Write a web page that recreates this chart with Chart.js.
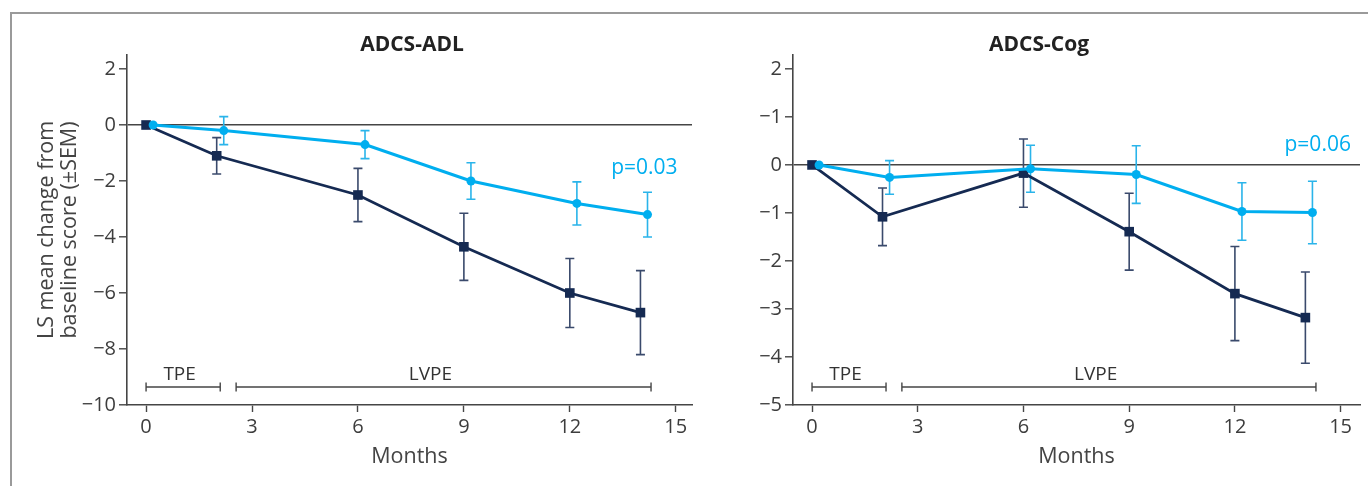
<!DOCTYPE html>
<html>
<head>
<meta charset="utf-8">
<script src="https://cdn.jsdelivr.net/npm/chart.js@4.4.0/dist/chart.umd.min.js"></script>
<style>
  html, body { margin: 0; padding: 0; background: #fff; }
  #wrap { position: relative; width: 1368px; height: 486px; overflow: hidden; }
  #frame { position: absolute; left: 10px; top: 12px; width: 1400px; height: 500px;
           border-top: 2px solid #9a9a9a; border-left: 2px solid #9a9a9a; }
  .box { position: absolute; top: 0; }
  #boxAdl { left: 0; }
  #boxCog { left: 700px; }
</style>
</head>
<body>
<div id="wrap">
  <div id="frame"></div>
  <div class="box" id="boxAdl"><canvas id="adlChart" width="700" height="486"></canvas></div>
  <div class="box" id="boxCog"><canvas id="cogChart" width="668" height="486"></canvas></div>
</div>
<script>
// months (light series is nudged right so the bars do not overlap)
var monthsDark = [0, 2, 6, 9, 12, 14];
var monthsLight = [0.2, 2.2, 6.2, 9.2, 12.2, 14.2];
var xTicks = [0, 3, 6, 9, 12, 15];

// ADCS-ADL
var adlDark = [0, -1.1, -2.5, -4.35, -6.0, -6.7];
var adlDarkSem = [0, 0.65, 0.95, 1.2, 1.23, 1.5];
var adlLight = [0, -0.2, -0.7, -2.0, -2.8, -3.2];
var adlLightSem = [0, 0.5, 0.5, 0.65, 0.77, 0.8];
var adlYTicks = [2, 0, -2, -4, -6, -8, -10];
var adlYLabels = ['2', '0', '−2', '−4', '−6', '−8', '−10'];

// ADCS-Cog (tick labels as printed in the original)
var cogDark = [0, -1.08, -0.17, -1.39, -2.68, -3.18];
var cogDarkSem = [0, 0.6, 0.71, 0.8, 0.98, 0.95];
var cogLight = [0, -0.26, -0.08, -0.2, -0.97, -0.99];
var cogLightSem = [0, 0.35, 0.49, 0.6, 0.6, 0.65];
var cogYTicks = [2, 1, 0, -1, -2, -3, -4, -5];
var cogYLabels = ['2', '−1', '0', '−1', '−2', '−3', '−4', '−5'];

// study phases
var phaseNames = ['TPE', 'LVPE'];
var phaseStart = [0, 2.55];
var phaseEnd = [2.1, 14.3];
var phaseLabelAt = [0.95, 8.05];

var DARK = '#152a52';
var LIGHT = '#00aeef';
var AXIS = '#454545';

Chart.defaults.font.family = "'Open Sans', sans-serif";
Chart.defaults.color = '#3d3d3d';

function pts(xs, ys) {
    return xs.map(function (x, i) { return { x: x, y: ys[i] }; });
}

// error bars, drawn from the dataset's own sem array
var errorBars = {
    id: 'errorBars',
    beforeDatasetsDraw: function (chart) {
        var ctx = chart.ctx;
        var xs = chart.scales.x, ys = chart.scales.y;
        for (var d = chart.data.datasets.length - 1; d >= 0; d--) {
            var ds = chart.data.datasets[d];
            ctx.save();
            ctx.strokeStyle = ds.errColor;
            ctx.lineWidth = 1.6;
            ds.data.forEach(function (p, i) {
                var s = ds.sem[i];
                if (!s) return;
                var px = xs.getPixelForValue(p.x);
                var top = ys.getPixelForValue(p.y + s);
                var bot = ys.getPixelForValue(p.y - s);
                ctx.beginPath();
                ctx.moveTo(px, top); ctx.lineTo(px, bot);
                ctx.moveTo(px - 4.5, top); ctx.lineTo(px + 4.5, top);
                ctx.moveTo(px - 4.5, bot); ctx.lineTo(px + 4.5, bot);
                ctx.stroke();
            });
            ctx.restore();
        }
    }
};

function decor(cfg) {
    return {
        id: 'decor',
        afterDraw: function (chart) {
            var ctx = chart.ctx;
            var xs = chart.scales.x, ys = chart.scales.y;
            var area = chart.chartArea;
            ctx.save();
            // panel title
            ctx.fillStyle = '#222';
            ctx.font = "bold 21px 'Open Sans', sans-serif";
            ctx.textAlign = 'center';
            ctx.textBaseline = 'middle';
            ctx.fillText(cfg.title, cfg.titleX, 45);

            // p value
            ctx.fillStyle = LIGHT;
            ctx.font = "21px 'Open Sans', sans-serif";
            ctx.fillText(cfg.pText, xs.getPixelForValue(cfg.pX), ys.getPixelForValue(cfg.pY));

            // phase brackets
            var by = area.bottom - 18;
            ctx.strokeStyle = AXIS;
            ctx.lineWidth = 1.4;
            ctx.fillStyle = '#333';
            ctx.font = "19px 'Open Sans', sans-serif";
            phaseNames.forEach(function (name, i) {
                var x0 = xs.getPixelForValue(phaseStart[i]);
                var x1 = xs.getPixelForValue(phaseEnd[i]);
                ctx.beginPath();
                ctx.moveTo(x0, by); ctx.lineTo(x1, by);
                ctx.moveTo(x0, by - 4.5); ctx.lineTo(x0, by + 4.5);
                ctx.moveTo(x1, by - 4.5); ctx.lineTo(x1, by + 4.5);
                ctx.stroke();
                ctx.fillText(name, xs.getPixelForValue(phaseLabelAt[i]), by - 12);
            });
            ctx.restore();
        }
    };
}

function makeChart(id, o) {
    return new Chart(document.getElementById(id), {
        type: 'line',
        data: {
            datasets: [{
                data: pts(monthsLight, o.light),
                sem: o.lightSem,
                errColor: '#2ab4ea',
                borderColor: LIGHT,
                backgroundColor: LIGHT,
                borderWidth: 3,
                pointStyle: 'circle',
                pointRadius: 4.5,
                pointBorderWidth: 0
            }, {
                data: pts(monthsDark, o.dark),
                sem: o.darkSem,
                errColor: '#3a4a6c',
                borderColor: DARK,
                backgroundColor: DARK,
                borderWidth: 2.8,
                pointStyle: 'rect',
                pointRadius: 6.8,
                pointBorderWidth: 0
            }]
        },
        options: {
            responsive: false,
            animation: false,
            layout: { padding: { top: 55, left: 0, right: o.padRight, bottom: 0 } },
            plugins: { legend: { display: false }, tooltip: { enabled: false } },
            scales: {
                x: {
                    type: 'linear',
                    min: -0.54,
                    max: o.xMax,
                    afterBuildTicks: function (s) { s.ticks = xTicks.map(function (v) { return { value: v }; }); },
                    afterFit: function (s) { s.height = 81; },
                    ticks: { font: { size: 20 }, padding: 3, autoSkip: false, maxRotation: 0,
                             callback: function (v) { return String(v); } },
                    grid: { drawOnChartArea: false, tickLength: 7, tickColor: AXIS, tickWidth: 1.4 },
                    border: { color: AXIS, width: 1.6 },
                    title: { display: true, text: 'Months', color: '#444',
                             font: { size: 21.5, lineHeight: 1.0 }, padding: { top: 0, bottom: 18 } }
                },
                y: {
                    min: o.yMin,
                    max: o.yMax,
                    afterBuildTicks: function (s) { s.ticks = o.yTicks.map(function (v) { return { value: v }; }); },
                    afterFit: function (s) { s.width = o.yWidth; },
                    ticks: { font: { size: 20 }, padding: 3, autoSkip: false,
                             callback: function (v) { return o.yLabels[o.yTicks.indexOf(v)]; } },
                    grid: {
                        drawOnChartArea: true,
                        tickLength: 8,
                        tickColor: AXIS,
                        tickWidth: 1.4,
                        lineWidth: 1.6,
                        color: function (c) { return c.tick && c.tick.value === 0 ? AXIS : 'rgba(0,0,0,0)'; }
                    },
                    border: { color: AXIS, width: 1.6 },
                    title: o.yTitle ? { display: true, text: ['LS mean change from', 'baseline score (±SEM)'],
                             color: '#444', font: { size: 21.5, lineHeight: 1.08 }, padding: { top: 35 } }
                           : { display: false }
                }
            }
        },
        plugins: [errorBars, decor(o.decor)]
    });
}

makeChart('adlChart', {
    dark: adlDark, darkSem: adlDarkSem, light: adlLight, lightSem: adlLightSem,
    yTicks: adlYTicks, yLabels: adlYLabels, yMin: -10, yMax: 2.5,
    yWidth: 127, padRight: 8, xMax: 15.46, yTitle: true,
    decor: { title: 'ADCS-ADL', titleX: 412, pText: 'p=0.03', pX: 14.11, pY: -1.55 }
});

makeChart('cogChart', {
    dark: cogDark, darkSem: cogDarkSem, light: cogLight, lightSem: cogLightSem,
    yTicks: cogYTicks, yLabels: cogYLabels, yMin: -5, yMax: 2.29,
    yWidth: 93, padRight: 8, xMax: 15.55, yTitle: false,
    decor: { title: 'ADCS-Cog', titleX: 339, pText: 'p=0.06', pX: 14.35, pY: 0.41 }
});
</script>
</body>
</html>
